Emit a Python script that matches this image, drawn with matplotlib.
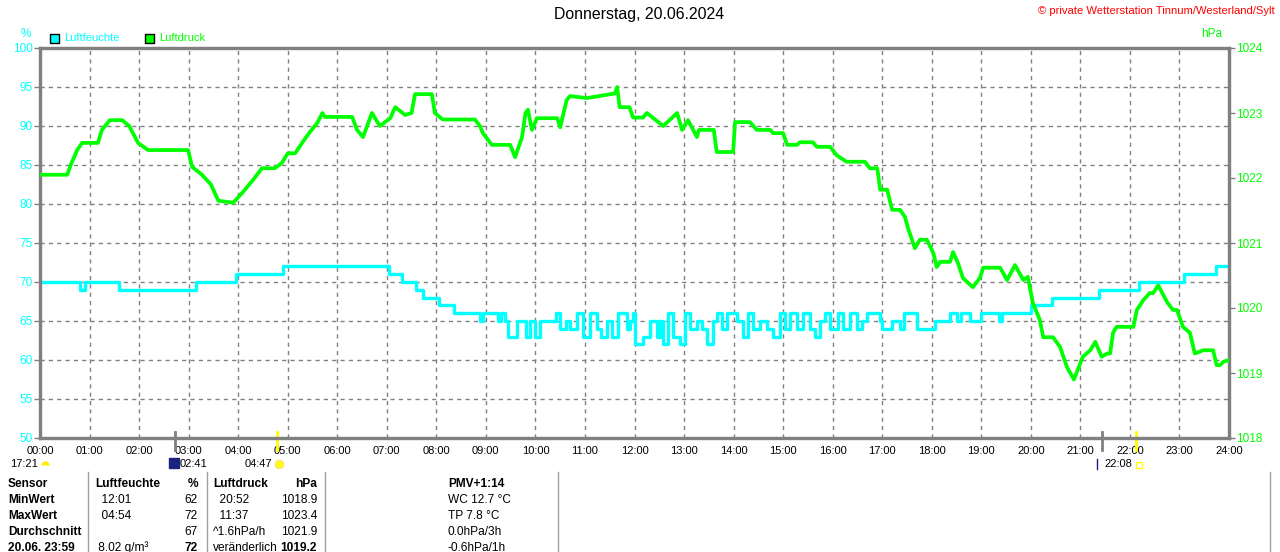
import numpy as np
import matplotlib
matplotlib.use('Agg')
import matplotlib.pyplot as plt
from matplotlib.lines import Line2D
import matplotlib.transforms as mtransforms

plt.rcParams['font.family'] = ['Liberation Sans', 'DejaVu Sans']

W, H = 1280, 552

# Luftdruck (hPa), Stunden seit 00:00
p_hours = [0.0, 0.55, 0.62, 0.75, 0.85, 1.17, 1.25, 1.41, 1.66, 1.8, 1.98,
           2.18, 2.99, 3.07, 3.27, 3.45, 3.6, 3.9, 4.08, 4.3, 4.48, 4.74,
           4.88, 5.0, 5.15, 5.29, 5.45, 5.6, 5.7, 5.75, 6.3, 6.4, 6.52, 6.7,
           6.86, 7.07, 7.17, 7.37, 7.5, 7.57, 7.91, 7.97, 8.13, 8.78, 8.88,
           8.94, 9.12, 9.49, 9.59, 9.73, 9.8, 9.85, 9.93, 10.03, 10.44, 10.5,
           10.63, 10.7, 11.04, 11.6, 11.65, 11.7, 11.9, 11.97, 12.17, 12.25,
           12.58, 12.86, 12.96, 13.08, 13.26, 13.3, 13.6, 13.66, 13.99, 14.03,
           14.33, 14.47, 14.74, 14.8, 15.0, 15.08, 15.28, 15.34, 15.6, 15.68,
           15.95, 16.08, 16.28, 16.65, 16.75, 16.9, 16.96, 17.1, 17.2, 17.36,
           17.46, 17.52, 17.66, 17.76, 17.9, 18.03, 18.1, 18.17, 18.37, 18.43,
           18.53, 18.63, 18.83, 18.97, 19.04, 19.38, 19.52, 19.68, 19.85, 19.94,
           20.04, 20.18, 20.25, 20.45, 20.59, 20.73, 20.87, 21.05, 21.2, 21.3,
           21.43, 21.54, 21.6, 21.66, 21.73, 22.07, 22.14, 22.27, 22.4, 22.47,
           22.57, 22.75, 22.87, 22.95, 23.07, 23.21, 23.31, 23.48, 23.68, 23.75,
           23.82, 23.88, 24.0]
p_values = [1022.05, 1022.05, 1022.2, 1022.43, 1022.54, 1022.54, 1022.74, 1022.89, 1022.89, 1022.8, 1022.54,
            1022.43, 1022.43, 1022.17, 1022.05, 1021.9, 1021.65, 1021.62, 1021.77, 1021.97, 1022.15, 1022.15,
            1022.23, 1022.38, 1022.38, 1022.54, 1022.71, 1022.85, 1023.0, 1022.94, 1022.94, 1022.74, 1022.63, 1023.0,
            1022.8, 1022.92, 1023.09, 1022.97, 1023.0, 1023.29, 1023.29, 1023.0, 1022.9, 1022.9, 1022.8,
            1022.69, 1022.51, 1022.51, 1022.32, 1022.63, 1023.0, 1023.05, 1022.74, 1022.92, 1022.92, 1022.78,
            1023.2, 1023.26, 1023.23, 1023.3, 1023.4, 1023.09, 1023.09, 1022.93, 1022.93, 1023.0,
            1022.8, 1023.0, 1022.74, 1022.89, 1022.63, 1022.74, 1022.74, 1022.4, 1022.4, 1022.86,
            1022.86, 1022.74, 1022.74, 1022.69, 1022.69, 1022.51, 1022.51, 1022.55, 1022.55, 1022.48,
            1022.48, 1022.35, 1022.25, 1022.25, 1022.15, 1022.15, 1021.82, 1021.82, 1021.51, 1021.51,
            1021.4, 1021.23, 1020.92, 1021.05, 1021.05, 1020.85, 1020.63, 1020.71, 1020.71, 1020.86,
            1020.69, 1020.46, 1020.32, 1020.46, 1020.62, 1020.62, 1020.43, 1020.66, 1020.43, 1020.48,
            1020.08, 1019.82, 1019.55, 1019.55, 1019.4, 1019.09, 1018.9, 1019.25, 1019.35, 1019.48,
            1019.25, 1019.3, 1019.3, 1019.62, 1019.71, 1019.71, 1019.97, 1020.12, 1020.23, 1020.23,
            1020.35, 1020.09, 1019.97, 1019.97, 1019.71, 1019.62, 1019.3, 1019.35, 1019.35, 1019.12,
            1019.12, 1019.17, 1019.2]

# Luftfeuchte (%)
h_hours = [0.0, 0.8, 0.9, 1.6, 3.15, 3.96, 4.9, 7.04, 7.3, 7.58, 7.73, 8.05,
           8.36, 8.88, 8.95, 9.25, 9.3, 9.38, 9.45, 9.62, 9.8, 9.9, 9.99, 10.1,
           10.42, 10.5, 10.62, 10.7, 10.84, 10.96, 11.1, 11.24, 11.33, 11.44,
           11.54, 11.66, 11.77, 11.85, 11.9, 11.97, 12.02, 12.17, 12.31, 12.45,
           12.51, 12.58, 12.68, 12.78, 12.92, 13.02, 13.12, 13.26, 13.36, 13.46,
           13.59, 13.66, 13.77, 13.87, 14.07, 14.19, 14.29, 14.39, 14.53, 14.67,
           14.8, 14.94, 15.04, 15.14, 15.28, 15.4, 15.54, 15.64, 15.74, 15.85,
           15.95, 16.1, 16.2, 16.35, 16.5, 16.6, 16.7, 16.95, 17.0, 17.2, 17.36,
           17.43, 17.7, 18.07, 18.37, 18.5, 18.6, 18.77, 19.0, 19.35, 19.42,
           20.0, 20.43, 21.38, 22.18, 23.1, 23.74, 24.0]
h_values = [70, 69, 70, 69, 70, 71, 72, 71, 70, 69, 68, 67,
            66, 65, 66, 65, 66, 65, 63, 65, 63, 65, 63, 65,
            66, 64, 65, 64, 66, 63, 66, 64, 63, 65,
            63, 66, 66, 64, 65, 66, 62, 63, 65, 63,
            65, 62, 66, 63, 62, 66, 64, 65, 64, 62,
            65, 66, 64, 66, 65, 63, 66, 64, 65, 64,
            63, 66, 64, 66, 64, 66, 64, 63, 65, 66,
            64, 66, 64, 66, 64, 65, 66, 65, 64, 65, 64,
            66, 64, 65, 66, 65, 66, 65, 66, 65, 66,
            67, 68, 69, 70, 71, 72, 72]

hour_labels = ['%02d:00' % h for h in range(25)]
hum_ticks = list(range(50, 101, 5))
pres_ticks = list(range(1018, 1025))

CYAN = '#00ffff'
GREEN = '#00ff00'
GREY = '#808080'

fig = plt.figure(figsize=(W / 100, H / 100), dpi=100)
fig.patch.set_facecolor('white')

def fx(px):
    return px / W

def fy(py):
    return 1 - py / H

ax = fig.add_axes([fx(40), fy(438), fx(1229) - fx(40), fy(48) - fy(438)])
ax2 = ax.twinx()

ax.plot(h_hours, h_values, color=CYAN, lw=2.4, drawstyle='steps-post', zorder=3)
ax2.plot(p_hours, p_values, color=GREEN, lw=2.7, zorder=3)

ax.set_xlim(0, 24)
ax.set_ylim(50, 100)
ax2.set_ylim(1018, 1024)

ax.set_xticks(range(25))
ax.set_xticklabels(hour_labels, fontsize=8, color='black')
ax.set_yticks(hum_ticks)
ax.set_yticklabels([str(v) for v in hum_ticks], fontsize=8.5, color=CYAN)
ax2.set_yticks(pres_ticks)
ax2.set_yticklabels([str(v) for v in pres_ticks], fontsize=8.5, color=GREEN)

ax.tick_params(axis='x', length=0, pad=6)
ax.tick_params(axis='y', length=4, width=1, color=GREY, pad=1)
ax2.tick_params(axis='y', length=4, width=1, color=GREY, pad=1)

ax.grid(True, color=GREY, linestyle=(0, (3, 3)), linewidth=1)
for a in (ax, ax2):
    for s in a.spines.values():
        s.set_color(GREY)
        s.set_linewidth(2.3)

# Markierungen auf der Zeitachse (Mond/Sonne)
trans = mtransforms.blended_transform_factory(ax.transData, ax.transAxes)
ax.plot([2.72, 2.72], [-0.03, 0.015], color=GREY, lw=2, transform=trans, clip_on=False)
ax.plot([4.78, 4.78], [-0.03, 0.015], color='#ffff00', lw=2, transform=trans, clip_on=False)
ax.plot([21.43, 21.43], [-0.03, 0.015], color=GREY, lw=2, transform=trans, clip_on=False)
ax.plot([22.13, 22.13], [-0.03, 0.015], color='#ffff00', lw=2, transform=trans, clip_on=False)

# Titel und Beschriftungen
fig.text(fx(639), fy(15), 'Donnerstag, 20.06.2024', ha='center', va='center', fontsize=11.4, color='black')
fig.text(fx(1275), fy(11), '\u00a9 private Wetterstation Tinnum/Westerland/Sylt', ha='right', va='center',
         fontsize=8.1, color='red')
fig.text(fx(26), fy(34), '%', ha='center', va='center', fontsize=8.5, color=CYAN)
fig.text(fx(1212), fy(34), 'hPa', ha='center', va='center', fontsize=8.5, color=GREEN)

fig.patches.append(plt.Rectangle((fx(50), fy(43)), 9 / W, 9 / H, transform=fig.transFigure,
                                 facecolor=CYAN, edgecolor='black', lw=1))
fig.text(fx(64), fy(38), 'Luftfeuchte', ha='left', va='center', fontsize=8, color=CYAN)
fig.patches.append(plt.Rectangle((fx(145), fy(43)), 9 / W, 9 / H, transform=fig.transFigure,
                                 facecolor=GREEN, edgecolor='black', lw=1))
fig.text(fx(159), fy(38), 'Luftdruck', ha='left', va='center', fontsize=8, color=GREEN)

# Auf-/Untergangszeiten
fig.text(fx(10), fy(464), '17:21', ha='left', va='center', fontsize=8)
fig.add_artist(Line2D([fx(45)], [fy(465)], marker='o', markersize=6, color='#ffee00',
                      fillstyle='top', markeredgewidth=0, transform=fig.transFigure))
fig.add_artist(Line2D([fx(174)], [fy(463)], marker='s', markersize=7, color='#1a237e',
                      transform=fig.transFigure))
fig.text(fx(180), fy(464), '02:41', ha='left', va='center', fontsize=8)
fig.text(fx(245), fy(464), '04:47', ha='left', va='center', fontsize=8)
fig.add_artist(Line2D([fx(279)], [fy(464)], marker='o', markersize=6, color='#ffff00',
                      markeredgecolor='#ffe080', transform=fig.transFigure))
fig.add_artist(Line2D([fx(1097), fx(1097)], [fy(459), fy(469)], color='#1a237e', lw=1,
                      transform=fig.transFigure))
fig.text(fx(1104), fy(464), '22:08', ha='left', va='center', fontsize=8)
fig.add_artist(Line2D([fx(1139)], [fy(465)], marker='s', markersize=5, color='#ffff00',
                      markerfacecolor='none', transform=fig.transFigure))

# Tabelle
sep_x = [88, 207, 325, 558, 1270]
for sx in sep_x:
    fig.add_artist(Line2D([fx(sx), fx(sx)], [fy(472), fy(552)], color='#a0a0a0', lw=1,
                          transform=fig.transFigure))

row_y = [484, 500, 516, 532, 548]
col_sensor = ['Sensor', 'MinWert', 'MaxWert', 'Durchschnitt', '20.06. 23:59']
col_hum_t = ['Luftfeuchte', '  12:01', '  04:54', '', ' 8.02 g/m\u00b3']
col_hum_v = ['%', '62', '72', '67', '72']
col_pres_t = ['Luftdruck', '  20:52', '  11:37', '^1.6hPa/h', 'ver\u00e4nderlich']
col_pres_v = ['hPa', '1018.9', '1023.4', '1021.9', '1019.2']
col_extra = ['PMV+1:14', 'WC 12.7 \u00b0C', 'TP 7.8 \u00b0C', '0.0hPa/3h', '-0.6hPa/1h']

FS = 8.6
for i, yy in enumerate(row_y):
    last = i == len(row_y) - 1
    head = i == 0
    fig.text(fx(8), fy(yy), col_sensor[i], ha='left', va='center', fontsize=FS, fontweight='bold')
    fig.text(fx(95), fy(yy), col_hum_t[i], ha='left', va='center', fontsize=FS,
             fontweight='bold' if head else 'normal')
    fig.text(fx(198), fy(yy), col_hum_v[i], ha='right', va='center', fontsize=FS,
             fontweight='bold' if (head or last) else 'normal')
    fig.text(fx(213), fy(yy), col_pres_t[i], ha='left', va='center', fontsize=FS,
             fontweight='bold' if head else 'normal')
    fig.text(fx(317), fy(yy), col_pres_v[i], ha='right', va='center', fontsize=FS,
             fontweight='bold' if (head or last) else 'normal')
    fig.text(fx(448), fy(yy), col_extra[i], ha='left', va='center', fontsize=FS,
             fontweight='bold' if head else 'normal')

fig.savefig('out.png', dpi=100, facecolor='white')
